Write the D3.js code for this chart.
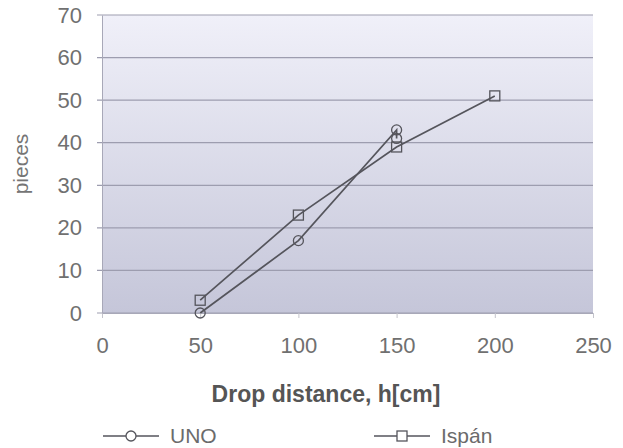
<!DOCTYPE html>
<html>
<head>
<meta charset="utf-8">
<script src="https://cdn.jsdelivr.net/npm/d3@7"></script>
<style>
  body { margin: 0; background: #fff; }
  svg { display: block; }
</style>
</head>
<body>
<svg class="chart" width="623" height="448"></svg>
<script>
// data
const unoX = [50, 100, 150, 150];
const unoY = [0, 17, 43, 41];
const ispanX = [50, 100, 150, 200];
const ispanY = [3, 23, 39, 51];
const xTicks = [0, 50, 100, 150, 200, 250];
const yTicks = [0, 10, 20, 30, 40, 50, 60, 70];
const seriesNames = ["UNO", "Ispán"];

let width = 623;
let height = 448;
let margin = ({top: 15, right: 30, bottom: 135, left: 102});

let svg = d3.select(".chart")
  .attr("viewBox", [0, 0, width, height])
  .attr("font-family", "'Liberation Sans', Arial, sans-serif");

let x = d3.scaleLinear()
  .domain([0, 250])
  .range([margin.left, width - margin.right]);

let y = d3.scaleLinear()
  .domain([0, 70])
  .range([height - margin.bottom, margin.top]);

let defs = svg.append("defs");
let grad = defs.append("linearGradient")
  .attr("id", "bg")
  .attr("x1", 0).attr("y1", 0).attr("x2", 0).attr("y2", 1);
grad.append("stop").attr("offset", "0%").attr("stop-color", "#f0f0f9");
grad.append("stop").attr("offset", "100%").attr("stop-color", "#c5c6d9");

svg.append("rect")
  .attr("x", x(0))
  .attr("y", y(70))
  .attr("width", x(250) - x(0))
  .attr("height", y(0) - y(70))
  .attr("fill", "url(#bg)");

// horizontal grid
svg.append("g")
  .attr("stroke", "#9d9daf")
  .attr("stroke-width", 1.2)
  .selectAll("line")
  .data(yTicks)
  .join("line")
  .attr("x1", x(0) - 5)
  .attr("x2", x(250))
  .attr("y1", d => y(d))
  .attr("y2", d => y(d));

let xAxis = g => g
  .attr("transform", `translate(0,${y(0)})`)
  .call(d3.axisBottom(x).tickValues(xTicks).tickSize(5).tickPadding(19))
  .call(g => g.select(".domain").attr("stroke", "#a8a8b8"))
  .call(g => g.selectAll(".tick line").attr("stroke", "#c4c4cc"))
  .call(g => g.selectAll(".tick text")
      .attr("font-size", 22)
      .attr("fill", "#707070"));

let yAxis = g => g
  .attr("transform", `translate(${x(0)},0)`)
  .call(d3.axisLeft(y).tickValues(yTicks).tickSize(0).tickPadding(20))
  .call(g => g.select(".domain").attr("stroke", "#a8a8b8"))
  .call(g => g.selectAll(".tick text")
      .attr("font-size", 22)
      .attr("fill", "#707070"));

svg.append("g").call(xAxis);
svg.append("g").call(yAxis);

svg.append("text")
  .attr("transform", `translate(28,${(y(0) + y(70)) / 2}) rotate(-90)`)
  .attr("text-anchor", "middle")
  .attr("font-size", 21)
  .attr("fill", "#757575")
  .text("pieces");

svg.append("text")
  .attr("x", 326)
  .attr("y", 402)
  .attr("text-anchor", "middle")
  .attr("font-size", 23)
  .attr("font-weight", "bold")
  .attr("fill", "#555")
  .text("Drop distance, h[cm]");

let line = d3.line()
  .x(d => x(d[0]))
  .y(d => y(d[1]));

let uno = unoX.map((v, i) => [v, unoY[i]]);
let ispan = ispanX.map((v, i) => [v, ispanY[i]]);

const lineColor = "#55555c";

[uno, ispan].forEach(data => {
  svg.append("path")
    .datum(data)
    .attr("fill", "none")
    .attr("stroke", lineColor)
    .attr("stroke-width", 1.7)
    .attr("d", line);
});

svg.append("g")
  .selectAll("rect")
  .data(ispan)
  .join("rect")
  .attr("x", d => x(d[0]) - 5)
  .attr("y", d => y(d[1]) - 5)
  .attr("width", 10)
  .attr("height", 10)
  .attr("fill", "none")
  .attr("stroke", lineColor)
  .attr("stroke-width", 1.3);

svg.append("g")
  .selectAll("circle")
  .data(uno)
  .join("circle")
  .attr("cx", d => x(d[0]))
  .attr("cy", d => y(d[1]))
  .attr("r", 5)
  .attr("fill", "none")
  .attr("stroke", lineColor)
  .attr("stroke-width", 1.3);

// legend
let legend = svg.append("g")
  .attr("font-size", 21);

let lg = [{x: 103, name: seriesNames[0], shape: "circle"},
          {x: 374, name: seriesNames[1], shape: "square"}];

lg.forEach(d => {
  let g = legend.append("g").attr("transform", `translate(${d.x},436)`);
  g.append("line")
    .attr("x1", 0).attr("x2", 56)
    .attr("stroke", lineColor).attr("stroke-width", 1.6);
  if (d.shape === "circle") {
    g.append("circle").attr("cx", 28).attr("r", 5)
      .attr("fill", "#fff").attr("stroke", lineColor).attr("stroke-width", 1.3);
  } else {
    g.append("rect").attr("x", 23).attr("y", -5).attr("width", 10).attr("height", 10)
      .attr("fill", "#fff").attr("stroke", lineColor).attr("stroke-width", 1.3);
  }
  g.append("text")
    .attr("x", 67)
    .attr("y", 7)
    .attr("fill", "#6b6b6b")
    .text(d.name);
});
</script>
</body>
</html>
